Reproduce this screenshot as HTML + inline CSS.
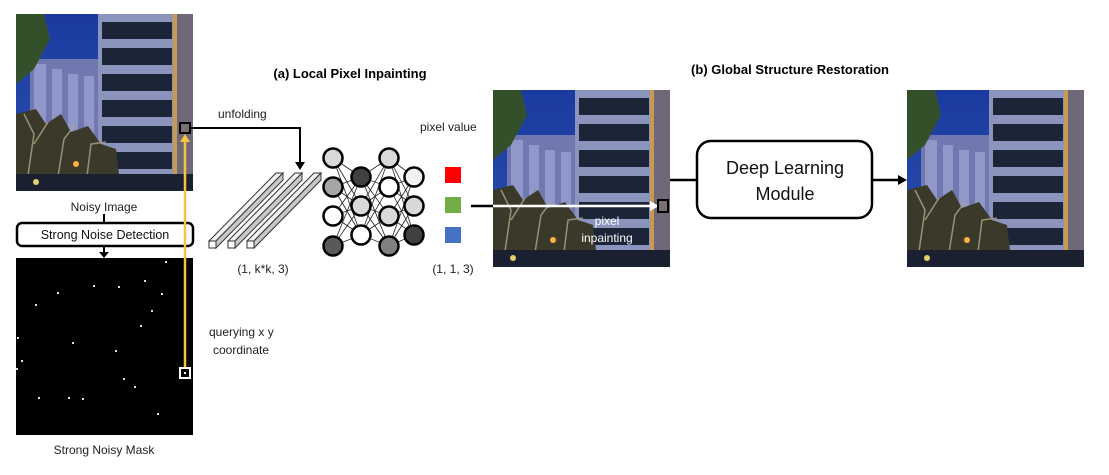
<!DOCTYPE html>
<html><head><meta charset="utf-8"><style>
body{margin:0;background:#fff;}
svg text{font-family:"Liberation Sans",sans-serif;}
</style></head><body>
<svg width="1109" height="470" viewBox="0 0 1109 470" xmlns="http://www.w3.org/2000/svg">
<defs>
<linearGradient id="sky" x1="0" y1="0" x2="0" y2="1"><stop offset="0" stop-color="#1a3aa0"/><stop offset="1" stop-color="#2b50b0"/></linearGradient>
<g id="img">
<rect width="177" height="177" fill="url(#sky)"/>
<rect x="14" y="45" width="75" height="115" fill="#7078b0"/>
<g fill="#9aa0d0" opacity="0.8">
<rect x="18" y="50" width="12" height="100"/><rect x="36" y="55" width="10" height="95"/><rect x="52" y="60" width="10" height="90"/><rect x="68" y="62" width="10" height="90"/>
</g>
<rect x="82" y="0" width="80" height="168" fill="#8a94bc"/>
<g fill="#1c2438">
<rect x="86" y="8" width="70" height="17"/><rect x="86" y="34" width="70" height="17"/><rect x="86" y="60" width="70" height="17"/><rect x="86" y="86" width="70" height="17"/><rect x="86" y="112" width="70" height="17"/><rect x="86" y="138" width="70" height="17"/>
</g>
<rect x="160" y="0" width="17" height="177" fill="#6e6878"/>
<rect x="157" y="0" width="4" height="160" fill="#c89a50"/>
<path d="M0 0 L28 0 L34 25 L18 55 L0 70Z" fill="#34502a"/>
<path d="M0 100 L20 95 L30 110 L45 100 L55 118 L72 112 L85 130 L100 135 L105 177 L0 177Z" fill="#3b3a2a"/>
<g stroke="#b0a888" stroke-width="1.5" fill="none" opacity="0.8">
<path d="M10 175 L18 120 L8 100"/><path d="M18 130 L32 108"/><path d="M40 175 L48 125 L58 112"/><path d="M70 170 L75 130 L90 128"/>
</g>
<rect x="0" y="160" width="177" height="17" fill="#1a2030"/>
<circle cx="60" cy="150" r="3" fill="#ffb040"/><circle cx="20" cy="168" r="3" fill="#e0d070"/>
</g>
</defs>

<use href="#img" x="16" y="14"/>
<text x="104" y="211" font-size="12" text-anchor="middle" fill="#222">Noisy Image</text>
<line x1="104" y1="214" x2="104" y2="224" stroke="#000" stroke-width="2"/>
<rect x="17" y="223" width="176" height="23" rx="5" fill="#fff" stroke="#000" stroke-width="2.5"/>
<text x="105" y="239" font-size="12.5" text-anchor="middle" fill="#111">Strong Noise Detection</text>
<line x1="104" y1="247" x2="104" y2="253" stroke="#000" stroke-width="2"/>
<polygon points="99,252 109,252 104,258" fill="#000"/>
<rect x="16" y="258" width="177" height="177" fill="#000"/>
<g fill="#ddd">
<rect x="165" y="261" width="2" height="2"/><rect x="144" y="280" width="2" height="2"/><rect x="93" y="285" width="2" height="2"/><rect x="118" y="286" width="2" height="2"/><rect x="57" y="292" width="2" height="2"/><rect x="161" y="293" width="2" height="2"/><rect x="35" y="304" width="2" height="2"/><rect x="151" y="310" width="2" height="2"/><rect x="140" y="325" width="2" height="2"/><rect x="17" y="337" width="2" height="2"/><rect x="72" y="342" width="2" height="2"/><rect x="115" y="350" width="2" height="2"/><rect x="21" y="360" width="2" height="2"/><rect x="16" y="368" width="2" height="2"/><rect x="123" y="378" width="2" height="2"/><rect x="134" y="386" width="2" height="2"/><rect x="38" y="397" width="2" height="2"/><rect x="68" y="397" width="2" height="2"/><rect x="82" y="398" width="2" height="2"/><rect x="157" y="413" width="2" height="2"/>
</g>
<text x="104" y="454" font-size="12" text-anchor="middle" fill="#222">Strong Noisy Mask</text>
<line x1="185" y1="368" x2="185" y2="140" stroke="#f6c343" stroke-width="2.5"/>
<polygon points="180,142 190,142 185,134" fill="#f6c343"/>
<rect x="180" y="368" width="10" height="10" fill="#000" stroke="#fff" stroke-width="2"/>
<rect x="184" y="372" width="2" height="2" fill="#fff"/>
<rect x="180" y="123" width="10" height="10" fill="#7a7070" stroke="#000" stroke-width="2"/>
<text x="209" y="336" font-size="12" fill="#222">querying x y</text>
<text x="213" y="354" font-size="12" fill="#222">coordinate</text>
<polyline points="191,128 300,128 300,163" fill="none" stroke="#000" stroke-width="2"/>
<polygon points="295,162 305,162 300,170" fill="#000"/>
<text x="218" y="118" font-size="12" fill="#222">unfolding</text>
<text x="350" y="78" font-size="13" font-weight="bold" text-anchor="middle" fill="#000">(a) Local Pixel Inpainting</text>
<text x="790" y="74" font-size="13" font-weight="bold" text-anchor="middle" fill="#000">(b) Global Structure Restoration</text>
<g stroke="#333" stroke-width="1">
<g><polygon points="209,241 216,241 283,173 276,173" fill="#f0f0f0"/><polygon points="216,241 216,248 283,180 283,173" fill="#c8c8c8"/><rect x="209" y="241" width="7" height="7" fill="#fff"/></g>
<g><polygon points="228,241 235,241 302,173 295,173" fill="#f0f0f0"/><polygon points="235,241 235,248 302,180 302,173" fill="#c8c8c8"/><rect x="228" y="241" width="7" height="7" fill="#fff"/></g>
<g><polygon points="247,241 254,241 321,173 314,173" fill="#f0f0f0"/><polygon points="254,241 254,248 321,180 321,173" fill="#c8c8c8"/><rect x="247" y="241" width="7" height="7" fill="#fff"/></g>
</g>
<text x="263" y="273" font-size="12" text-anchor="middle" fill="#222">(1, k*k, 3)</text>
<g stroke="#222" stroke-width="0.8">
<line x1="333" y1="158" x2="361" y2="177"/><line x1="333" y1="158" x2="361" y2="206"/><line x1="333" y1="158" x2="361" y2="235"/>
<line x1="333" y1="187" x2="361" y2="177"/><line x1="333" y1="187" x2="361" y2="206"/><line x1="333" y1="187" x2="361" y2="235"/>
<line x1="333" y1="216" x2="361" y2="177"/><line x1="333" y1="216" x2="361" y2="206"/><line x1="333" y1="216" x2="361" y2="235"/>
<line x1="333" y1="246" x2="361" y2="177"/><line x1="333" y1="246" x2="361" y2="206"/><line x1="333" y1="246" x2="361" y2="235"/>
<line x1="361" y1="177" x2="389" y2="158"/><line x1="361" y1="177" x2="389" y2="187"/><line x1="361" y1="177" x2="389" y2="216"/><line x1="361" y1="177" x2="389" y2="246"/>
<line x1="361" y1="206" x2="389" y2="158"/><line x1="361" y1="206" x2="389" y2="187"/><line x1="361" y1="206" x2="389" y2="216"/><line x1="361" y1="206" x2="389" y2="246"/>
<line x1="361" y1="235" x2="389" y2="158"/><line x1="361" y1="235" x2="389" y2="187"/><line x1="361" y1="235" x2="389" y2="216"/><line x1="361" y1="235" x2="389" y2="246"/>
<line x1="389" y1="158" x2="414" y2="177"/><line x1="389" y1="158" x2="414" y2="206"/><line x1="389" y1="158" x2="414" y2="235"/>
<line x1="389" y1="187" x2="414" y2="177"/><line x1="389" y1="187" x2="414" y2="206"/><line x1="389" y1="187" x2="414" y2="235"/>
<line x1="389" y1="216" x2="414" y2="177"/><line x1="389" y1="216" x2="414" y2="206"/><line x1="389" y1="216" x2="414" y2="235"/>
<line x1="389" y1="246" x2="414" y2="177"/><line x1="389" y1="246" x2="414" y2="206"/><line x1="389" y1="246" x2="414" y2="235"/>
</g>
<g stroke="#000" stroke-width="2.5">
<circle cx="333" cy="158" r="9.5" fill="#d9d9d9"/><circle cx="333" cy="187" r="9.5" fill="#a6a6a6"/><circle cx="333" cy="216" r="9.5" fill="#fff"/><circle cx="333" cy="246" r="9.5" fill="#595959"/>
<circle cx="361" cy="177" r="9.5" fill="#404040"/><circle cx="361" cy="206" r="9.5" fill="#d9d9d9"/><circle cx="361" cy="235" r="9.5" fill="#fff"/>
<circle cx="389" cy="158" r="9.5" fill="#d9d9d9"/><circle cx="389" cy="187" r="9.5" fill="#fff"/><circle cx="389" cy="216" r="9.5" fill="#d9d9d9"/><circle cx="389" cy="246" r="9.5" fill="#808080"/>
<circle cx="414" cy="177" r="9.5" fill="#f2f2f2"/><circle cx="414" cy="206" r="9.5" fill="#d9d9d9"/><circle cx="414" cy="235" r="9.5" fill="#404040"/>
</g>
<text x="420" y="131" font-size="12" fill="#222">pixel value</text>
<rect x="445" y="167" width="16" height="16" fill="#ff0000"/>
<rect x="445" y="197" width="16" height="16" fill="#70ad47"/>
<rect x="445" y="227" width="16" height="16" fill="#4472c4"/>
<text x="453" y="273" font-size="12" text-anchor="middle" fill="#222">(1, 1, 3)</text>
<use href="#img" x="493" y="90"/>
<line x1="471" y1="206" x2="493" y2="206" stroke="#000" stroke-width="2.5"/>
<line x1="493" y1="206" x2="651" y2="206" stroke="#fff" stroke-width="2.5"/>
<polygon points="650,201 659,206 650,211" fill="#fff"/>
<rect x="658" y="200" width="10" height="12" fill="#7a7070" stroke="#000" stroke-width="2"/>
<text x="607" y="225" font-size="12" text-anchor="middle" fill="#fff">pixel</text>
<text x="607" y="242" font-size="12" text-anchor="middle" fill="#fff">inpainting</text>
<line x1="670" y1="180" x2="697" y2="180" stroke="#000" stroke-width="2.5"/>
<rect x="697" y="141" width="175" height="77" rx="14" fill="#fff" stroke="#000" stroke-width="2.5"/>
<text x="785" y="174" font-size="18" text-anchor="middle" fill="#111">Deep Learning</text>
<text x="785" y="200" font-size="18" text-anchor="middle" fill="#111">Module</text>
<line x1="872" y1="180" x2="900" y2="180" stroke="#000" stroke-width="2.5"/>
<polygon points="898,175 907,180 898,185" fill="#000"/>
<use href="#img" x="907" y="90"/>
</svg>
</body></html>
